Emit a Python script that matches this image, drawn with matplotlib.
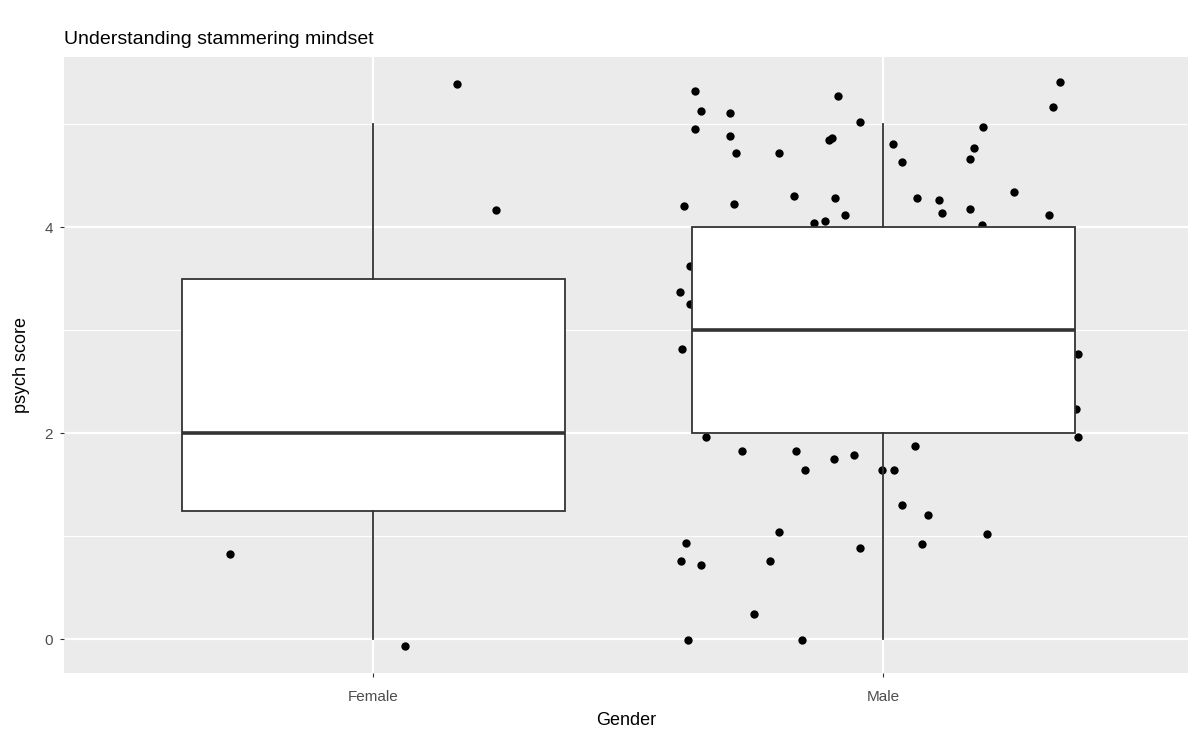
import matplotlib
matplotlib.use('Agg')
import matplotlib.pyplot as plt

plt.rcParams['font.family'] = ['Liberation Sans', 'DejaVu Sans']

genders = ['Female', 'Male']

# box statistics per gender
whisker_low = [0, 0]
q1 = [1.25, 2]
median = [2, 3]
q3 = [3.5, 4]
whisker_high = [5, 5]

# jittered points (horizontal offset from the category, psych score)
female_jitter = [-0.280, 0.165, 0.241, 0.063]
female_score = [0.83, 5.39, 4.17, -0.06]

male_jitter = [-0.369, -0.357, -0.300, -0.369, -0.300, -0.288, -0.205, -0.089, -0.046, -0.106,
               -0.101, 0.019, 0.036, -0.391, -0.292, -0.176, -0.094, -0.076, -0.137, -0.114,
               0.066, 0.109, 0.114, -0.379, -0.399, -0.379, -0.395, 0.347, 0.333, 0.196,
               0.178, 0.170, 0.170, 0.256, 0.325, 0.194, 0.381, -0.348, -0.278, -0.171,
               -0.154, -0.097, -0.058, -0.003, 0.020, 0.061, 0.036, 0.088, -0.205, -0.386,
               -0.396, -0.357, -0.223, -0.046, 0.075, -0.253, -0.383, -0.159, 0.378, 0.382,
               0.204]
male_score = [5.32, 5.13, 5.11, 4.96, 4.89, 4.72, 4.72, 5.28, 5.02, 4.85,
              4.87, 4.81, 4.64, 4.21, 4.23, 4.31, 4.29, 4.12, 4.04, 4.06,
              4.29, 4.27, 4.14, 3.63, 3.37, 3.26, 2.82, 5.41, 5.17, 4.98,
              4.77, 4.66, 4.18, 4.34, 4.12, 4.02, 2.77, 1.96, 1.83, 1.83,
              1.64, 1.75, 1.79, 1.64, 1.64, 1.88, 1.30, 1.21, 1.04, 0.94,
              0.76, 0.72, 0.76, 0.89, 0.93, 0.25, -0.01, -0.01, 2.24, 1.96,
              1.02]

fig = plt.figure(figsize=(11.94, 7.38), dpi=100)
ax = fig.add_axes([64/1194, 1-673/738, (1188-64)/1194, (673-57)/738])
ax.set_facecolor('#EBEBEB')

# grid like ggplot: major + minor white lines
for y in [1, 3, 5]:
    ax.axhline(y, color='white', lw=0.8, zorder=0)
for y in [0, 2, 4]:
    ax.axhline(y, color='white', lw=1.6, zorder=0)
for x in [1, 2]:
    ax.axvline(x, color='white', lw=1.6, zorder=0)

ax.scatter([1 + j for j in female_jitter], female_score, s=36, c='black', linewidths=0, zorder=2)
ax.scatter([2 + j for j in male_jitter], male_score, s=36, c='black', linewidths=0, zorder=2)

stats = []
for i in range(len(genders)):
    stats.append({'med': median[i], 'q1': q1[i], 'q3': q3[i],
                  'whislo': whisker_low[i], 'whishi': whisker_high[i], 'fliers': []})
bp = ax.bxp(stats, positions=[1, 2], widths=0.75, patch_artist=True, showcaps=False,
            boxprops=dict(facecolor='white', edgecolor='#333333', linewidth=1.3),
            medianprops=dict(color='#333333', linewidth=2.6),
            whiskerprops=dict(color='#333333', linewidth=1.3))
for artist in bp['boxes'] + bp['medians'] + bp['whiskers']:
    artist.set_zorder(3)

ax.set_xlim(0.394, 2.597)
ax.set_ylim(-0.327, 5.655)
ax.set_xticks([1, 2])
ax.set_xticklabels(genders)
ax.set_yticks([0, 2, 4])
for s in ax.spines.values():
    s.set_visible(False)
ax.tick_params(colors='#333333', length=3, width=0.8, labelsize=11, labelcolor='#4D4D4D')
ax.tick_params(axis='x', pad=9)
ax.tick_params(axis='y', pad=5)

ax.set_xlabel('Gender', fontsize=13, color='black', labelpad=6)
ax.set_ylabel('psych score', fontsize=13, color='black', labelpad=10)
ax.set_title('Understanding stammering mindset', loc='left', fontsize=14, pad=9)

fig.savefig('out.png', dpi=100)
